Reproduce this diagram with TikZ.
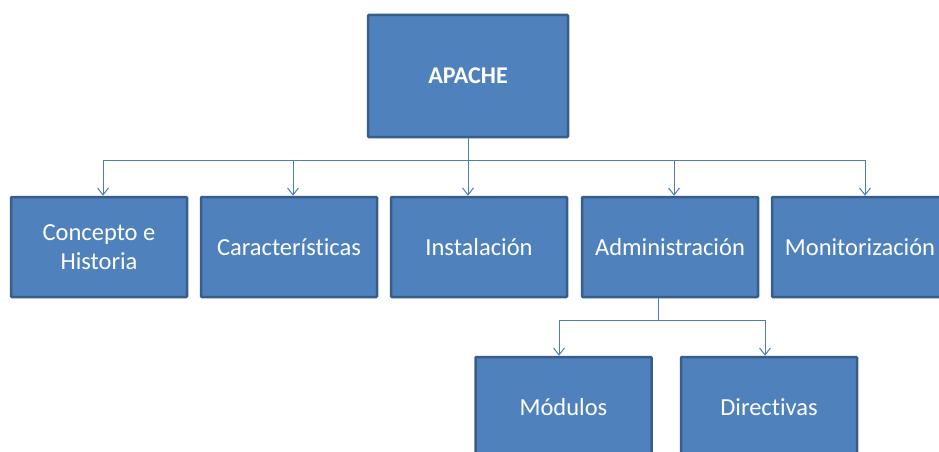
\documentclass[tikz,border=0pt]{standalone}
\usepackage{fontspec}
\setmainfont[Ligatures={NoCommon}]{Carlito}
\usetikzlibrary{arrows.meta}
\definecolor{boxfill}{HTML}{4F81BD}
\definecolor{boxline}{HTML}{385D8A}
\definecolor{connc}{HTML}{4A7EBB}
\begin{document}
\begin{tikzpicture}[x=1pt,y=-1pt,
  box/.style={draw=boxline, fill=boxfill, line width=2.5pt, rounded corners=1pt,
    minimum width=176pt, minimum height=100pt, text=white, align=center,
    font=\fontsize{24.5}{29.5}\selectfont, inner sep=0pt},
  conn/.style={draw=connc, line width=1pt},
  arr/.style={conn, -{Straight Barb[length=7pt,width=11pt,line width=1pt]}}]
\useasboundingbox (0,0) rectangle (939,452);
\clip (0,0) rectangle (939,452);
\node[box, minimum width=200pt, minimum height=122pt, font=\fontsize{24}{29}\selectfont\bfseries] (apache) at (468,76) {APACHE};
\node[box] (concepto) at (99,247) {Concepto e\\Historia};
\node[box] (caract) at (289,247) {Características};
\node[box] (instal) at (479,247) {Instalación};
\node[box] (admin) at (670,247) {Administración};
\node[box] (monit) at (860,247) {Monitorización};
\node[box] (modulos) at (563.5,407) {Módulos};
\node[box] (direct) at (769,407) {Directivas};
% top bus
\coordinate (busL) at (103,160);
\coordinate (busR) at (865,160);
\draw[conn] (busL) -- (busR);
\draw[arr] (apache.south) -- (apache.south |- instal.north);
\draw[arr] (busL) -- ([xshift=4pt]concepto.north);
\draw[arr] (293,160) -- ([xshift=4pt]caract.north);
\draw[arr] (674,160) -- ([xshift=4pt]admin.north);
\draw[arr] (busR) -- ([xshift=5pt]monit.north);
% lower bus
\coordinate (adm) at (658,320);
\draw[conn] ([xshift=-12pt]admin.south) -- (adm);
\draw[arr] (adm) -| ([xshift=-4.5pt]modulos.north);
\draw[arr] (adm) -| ([xshift=-4pt]direct.north);
\end{tikzpicture}
\end{document}
